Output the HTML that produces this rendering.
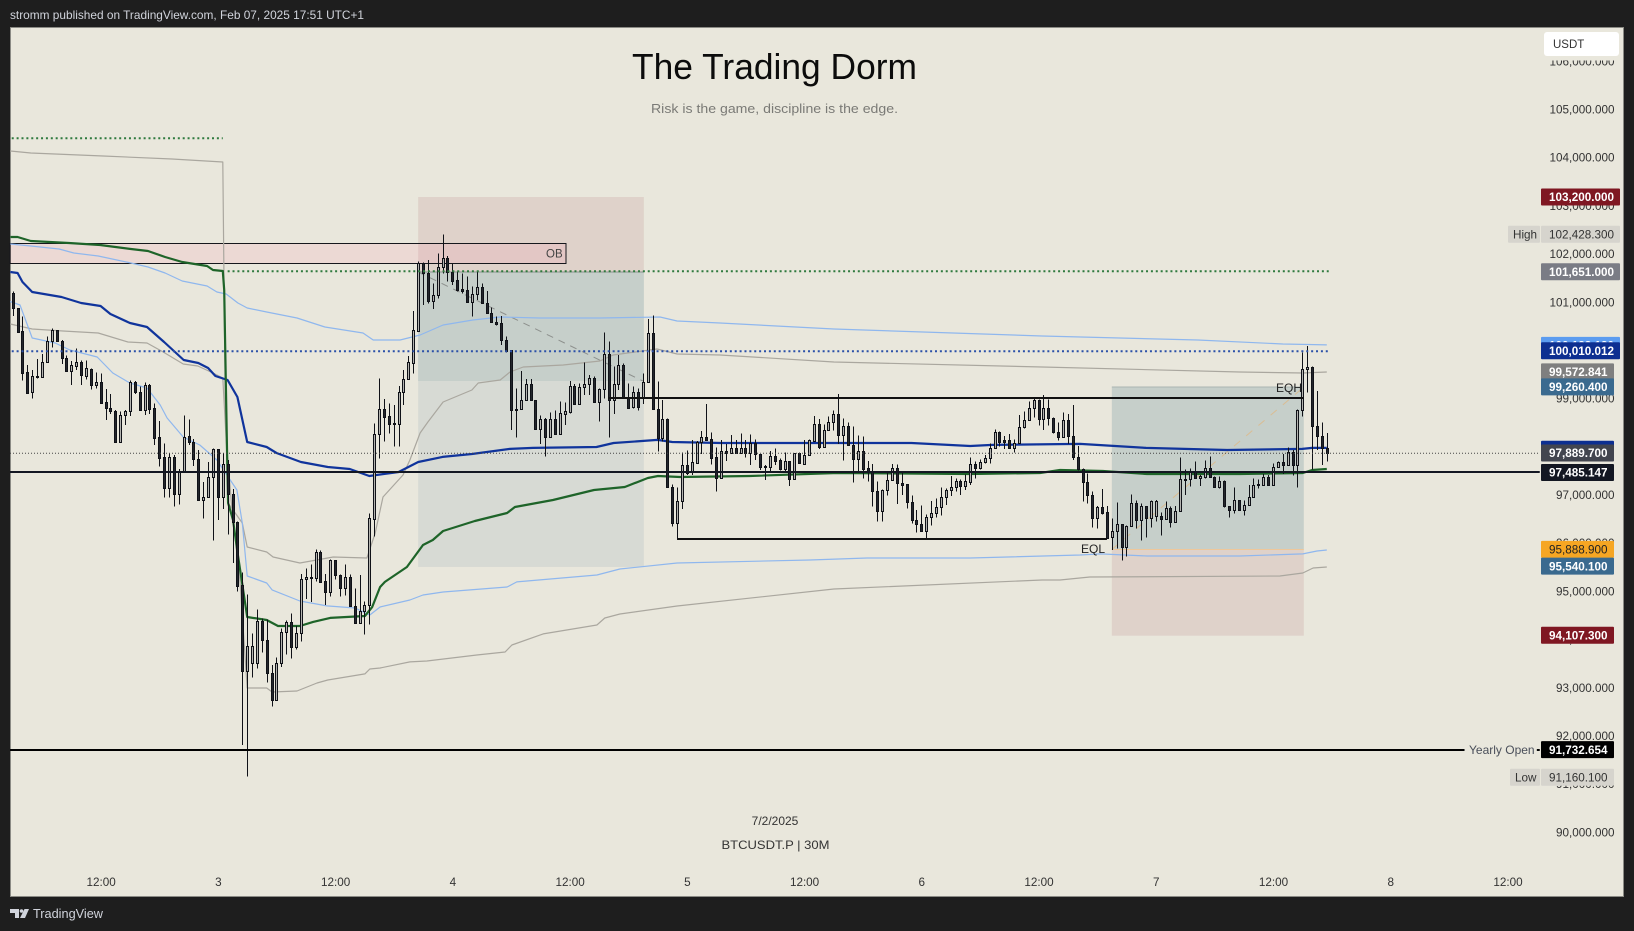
<!DOCTYPE html>
<html lang="en">
<head>
<meta charset="utf-8">
<title>BTCUSDT.P 30M chart</title>
<style>
html,body{margin:0;padding:0;background:#1e1e1e;width:1634px;height:931px;overflow:hidden}
svg{display:block;font-family:"Liberation Sans",sans-serif}
</style>
</head>
<body>
<svg id="chart" xmlns="http://www.w3.org/2000/svg" width="1634" height="931" viewBox="0 0 1634 931">
  <rect x="0" y="0" width="1634" height="931" fill="#1e1e1e"/>
  <text x="10" y="19" font-size="12" fill="#d1d4dc" textLength="354" lengthAdjust="spacingAndGlyphs">stromm published on TradingView.com, Feb 07, 2025 17:51 UTC+1</text>
  <rect x="10.5" y="27.5" width="1613" height="869" fill="#e9e7dc" stroke="#8b8b85" stroke-width="1"/>
  <g id="zones"></g>
  <g id="lines"></g>
  <g id="candles"></g>
  <g id="levels"></g>
  <g id="axis"></g>
  <g id="labels"></g>
  <text x="774.5" y="79" font-size="36" text-anchor="middle" fill="#0c0c0c" textLength="285" lengthAdjust="spacingAndGlyphs">The Trading Dorm</text>
  <text x="774.5" y="113" font-size="13" text-anchor="middle" fill="#7a7a76" textLength="247" lengthAdjust="spacingAndGlyphs">Risk is the game, discipline is the edge.</text>
  <text x="775" y="825" font-size="12" text-anchor="middle" fill="#333">7/2/2025</text>
  <text x="775.5" y="849" font-size="12" text-anchor="middle" fill="#333" textLength="108" lengthAdjust="spacingAndGlyphs">BTCUSDT.P | 30M</text>
  <rect x="1541" y="50" width="80" height="10.5" fill="#e9e7dc"/>
  <g>
    <rect x="1544" y="32" width="75" height="24" rx="3" fill="#ffffff"/>
    <text x="1553" y="48" font-size="11.5" fill="#333">USDT</text>
  </g>
  <g>
    <polygon points="10,909 19,909 19,918 15,918 15,913 10,913" fill="#d1d4dc"/>
    <circle cx="21.5" cy="911" r="1.8" fill="#d1d4dc"/>
    <polygon points="24.5,909 29,909 25,918 20,918" fill="#d1d4dc"/>
    <text x="33" y="918" font-size="13" fill="#d1d4dc" textLength="70" lengthAdjust="spacingAndGlyphs">TradingView</text>
  </g>
</svg>
<script>
const highs=[101215,100870,100697,99694,99590,99819,99922,100282,100455,100420,
100213,99888,99777,100040,99784,99791,99625,99542,99521,99196,
99093,98761,98726,98761,99369,99362,99245,99328,99300,98899,
98532,98069,97862,97827,97537,98650,98567,98159,97931,97267,
97682,97965,97952,97862,97723,97122,96444,95392,94936,94127,
94625,94438,94417,93470,93629,94231,94397,94542,94279,95358,
95475,95558,95870,95849,95358,95662,95648,95344,95558,95351,
95061,95337,94784,96616,98484,99418,98989,98899,98864,99258,
99590,99881,100815,101839,101825,101873,101389,102012,102406,101956,
101804,101631,101597,101527,101320,101631,101389,101230,100884,100698,
100711,100283,100006,99211,99571,99405,99405,98969,98644,98595,
98706,98748,98934,98920,99363,99301,99315,99743,99487,99453,
99211,100366,100179,99660,99902,99730,99315,99246,99211,99522,
100649,100725,99356,98969,98588,97219,97156,97882,97917,98138,
98118,98325,98885,98297,97986,98138,98055,98242,98138,98277,
98138,98256,98152,97848,97620,97910,97965,97758,97882,97703,
97869,97876,98138,98152,98636,98574,98463,98622,98747,99093,
98588,98505,98415,98235,98207,97703,97640,97274,97115,97461,
97640,97633,97461,97226,96990,96686,96783,96596,96873,96928,
97156,97135,97391,97343,97322,97426,97779,97689,97737,97827,
98069,98360,98311,98221,98263,98152,98657,98726,98934,99003,
98982,99072,98982,98602,98505,98712,98678,98864,98014,97551,
97447,97066,96769,97122,96769,96513,96845,96389,96361,97011,
96880,96825,96769,96880,96894,96638,96859,96755,96769,97779,
97530,97551,97696,97412,97710,97799,97378,97378,97295,96769,
97156,96894,96880,97205,97336,97322,97433,97412,97654,97689,
97842,97980,97932,98775,99951,100089,99660,99156,98505,98284];
const opens=[101195,100870,100400,99542,99127,99466,99452,99749,100192,100413,
100199,99832,99563,99680,99749,99473,99618,99286,99335,98920,
98795,98747,98104,98650,98733,99335,99127,98768,99272,98795,
98194,97779,97149,97779,97025,97467,98214,98104,97737,96887,
96963,97364,97945,96963,97633,97011,96430,95123,93353,93505,
93505,94376,93982,93297,92737,93519,94148,94355,93837,94127,
95247,95303,95268,95807,95206,94991,95641,95330,95061,95289,
94701,94335,94583,94708,96506,98256,98774,98629,98484,98463,
99127,99397,99743,100407,101818,101610,101023,101140,101721,101908,
101624,101451,101265,101244,100995,101175,101306,100988,100781,100580,
100559,100207,99999,98789,98789,98962,99294,98962,98374,98568,
98208,98568,98270,98685,98727,99259,98893,99239,99294,99425,
98934,99190,99916,98969,99294,99688,99010,98817,99128,99024,
99349,100352,98789,98187,98567,97170,96423,96866,97613,97468,
97668,98090,98194,98152,97779,97343,97903,97862,97965,97862,
97965,97876,98069,97841,97585,97585,97799,97723,97544,97696,
97336,97862,97647,97820,98125,98463,98000,98339,98505,98671,
98235,98422,98028,97737,97903,97551,97468,97073,96659,97094,
97302,97551,97239,97219,96845,96472,96389,96257,96534,96617,
96741,96949,97094,97156,97281,97177,97274,97634,97551,97675,
97758,97965,98297,98131,98131,97979,98069,98401,98546,98795,
98961,98567,98795,98588,98297,98194,98546,98214,97779,97530,
97260,96990,96513,96741,96638,96119,96244,96389,95912,96347,
96825,96472,96762,96513,96555,96555,96492,96721,96430,96659,
97329,97322,97502,97343,97378,97551,97364,97156,97281,96762,
96679,96887,96679,96783,96949,97198,97212,97364,97198,97571,
97676,97614,97883,97627,98761,99605,99647,98423,98215,97966];
const closes=[100870,100385,99535,99120,99466,99438,99749,100192,100420,100199,
99832,99563,99687,99749,99480,99625,99286,99335,98913,98795,
98747,98097,98650,98740,99341,99127,98768,99272,98774,98187,
97772,97149,97779,97025,97467,98207,98104,97737,96887,96963,
97364,97945,96963,97633,97011,96430,95109,93353,93857,93857,
94376,93982,93297,92737,93519,94148,94355,93837,94127,95247,
95303,95268,95807,95199,94991,95641,95330,95061,95289,94701,
94335,94583,94708,96513,98256,98774,98622,98477,98477,99127,
99397,99749,100421,101804,101597,101023,101140,101721,101908,101624,
101444,101251,101237,100995,101175,101306,100988,100781,100580,100552,
100207,99992,98768,98768,98962,99294,98962,98374,98568,98208,
98568,98270,98692,98734,99259,98893,99239,99301,99425,98934,
99197,99916,98969,99294,99688,99010,98796,99128,98817,99349,
100352,98789,98187,98568,97170,96423,96866,97613,97447,97675,
98097,98194,98145,97772,97343,97903,97862,97965,97862,97965,
97862,98069,97848,97585,97606,97799,97710,97544,97696,97336,
97862,97654,97820,98138,98463,98000,98339,98505,98671,98235,
98422,98028,97737,97903,97544,97481,97073,96659,97094,97302,
97551,97239,97212,96845,96472,96389,96257,96534,96617,96741,
96949,97094,97156,97281,97177,97281,97634,97551,97675,97758,
97965,98297,98104,98104,97979,98069,98401,98546,98795,98961,
98567,98795,98588,98297,98194,98546,98214,97779,97530,97260,
96990,96513,96741,96631,96112,96244,96389,95912,96361,96825,
96472,96762,96513,96866,96866,96492,96721,96430,96659,97322,
97322,97502,97343,97385,97551,97364,97156,97281,96762,96679,
96887,96679,96783,96949,97198,97219,97364,97198,97571,97675,
97614,97883,97627,98761,99605,99647,98423,98215,97966,97863];
const lows=[100710,100365,99369,99093,98996,99418,99431,99749,100061,100178,
99715,99556,99279,99590,99279,99397,99189,99210,98913,98553,
98678,98083,98097,98449,98636,99093,98761,98657,98678,98034,
97585,96942,96949,96755,96797,97467,98034,97599,96880,96506,
96935,96050,96479,96707,96181,95580,94991,91810,91154,93207,
93394,93726,93104,92606,92737,93422,93684,93601,93795,93954,
94839,94777,95199,95185,94715,94888,95247,94888,94908,94694,
94321,94321,94099,94307,96133,97758,98104,98277,97999,97999,
98864,99521,99522,100386,100940,100974,100857,101078,101597,101424,
101355,101216,101182,100988,100698,101043,100974,100767,100573,100511,
100110,99958,98347,98187,98775,98948,98948,98360,98056,97793,
98208,98257,98264,98450,98692,98865,98886,99073,99073,98920,
98519,99003,98194,98678,99176,99003,98782,98796,98748,98886,
99335,98761,97897,98104,97149,96340,96078,96707,97412,97412,
97640,97848,98138,97627,97066,97329,97703,97848,97848,97848,
97779,97620,97723,97516,97309,97481,97620,97502,97481,97184,
97309,97640,97640,97806,98111,97952,97986,98332,98332,98055,
97710,98014,97253,97481,97336,97274,96755,96444,96444,96984,
97288,96811,96997,96721,96410,96216,96237,96085,96361,96527,
96569,96790,96972,97066,96997,97101,97205,97343,97530,97654,
97654,97952,98000,97952,97965,97876,98055,98380,98539,98609,
98436,98346,98436,98277,98125,98194,98055,97723,97502,96859,
96825,96320,96306,96596,96091,95856,95891,95635,95718,96333,
96306,96050,96112,96320,96444,96154,96479,96327,96423,96645,
96997,97170,97329,97184,97336,97357,97149,97136,96741,96534,
96617,96672,96569,96769,96942,97136,97198,97184,97184,97557,
97434,97607,97399,97150,98623,99121,97530,97932,97620,97690];

const vwapBars=[-0.5,1,2,4,10,14,18,20,24,27.5,31,35,38,40,41.5,44,46,48,52,54,59,64.5,69,73,79,83,88,94,101.8,106.5,119.5,123,132,135,145,164.6,184,196,200.6,218.5,232,248.6,264,266,269];
const vwapValues=[101624,101604,101417,101209,101105,100981,100919,100752,100566,100483,100172,99798,99736,99632,99466,99383,99030,98097,97993,97868,97682,97578,97536,97391,97474,97682,97786,97848,97952,97973,97993,98076,98139,98097,98076,98076,98076,98014,98035,98056,97973,97931,97952,97973,97973];
const greenBars=[-0.5,1,3.7,11.5,17.9,24.2,27.7,31.2,34.7,39.8,41,43,43.3,43.9,44.1,45.1,46.1,48,52,54.3,58.8,61.5,65,72.1,73.6,75.2,76.2,80.7,84,86,88.1,94.6,101.2,102.8,110.6,119,125.3,130,132.1,136.6,150.9,168.7,196,210.3,214.4,223.2,232.2,251.2,264.1,266,269];
const greenValues=[102350,102350,102267,102226,102185,102101,102060,101935,101832,101748,101666,101645,101251,97723,96831,96478,95752,94465,94403,94278,94278,94362,94445,94486,94673,95088,95192,95503,95959,96063,96250,96457,96623,96748,96893,97100,97163,97349,97391,97370,97391,97453,97433,97453,97515,97495,97433,97433,97453,97515,97536];
const blueUpperBars=[-0.5,3.7,9.5,12.5,17.5,24.2,27.7,31.2,34.7,39.8,41.8,43.7,46.1,48,52,58.2,63.9,71.7,73.8,79.3,83.4,88.1,94.2,99.8,107.9,120.2,132.5,136,144.8,168.1,210.7,242.6,260,269];
const blueUpperValues=[102205,102164,102101,102018,101956,101811,101728,101603,101437,101334,101209,101167,100981,100877,100794,100669,100483,100358,100213,100213,100317,100524,100628,100690,100670,100670,100690,100607,100566,100441,100296,100213,100130,100110];
const blueLowerBars=[-0.5,1.5,4,8.7,11.7,17.3,20.5,24,27.5,30.2,31.6,34.9,38.3,41.8,45.9,47,48,52,53.1,58.8,64.3,70.1,73.1,75.2,81.3,84,88.1,101.2,103.2,119.6,124.3,136,163.2,174.9,196,218.5,222.6,232.2,251.2,264.1,267,269];
const blueLowerValues=[101010,100939,100255,100151,100005,99860,99528,99321,99217,98864,98594,98200,98034,97723,97100,96416,95316,95171,95026,94797,94694,94652,94507,94673,94818,94922,94984,95088,95192,95337,95461,95586,95648,95689,95689,95752,95773,95731,95731,95773,95835,95855];
const grayUpperBars=[-0.5,3.7,18.5,32.6,43,43.3,43.5,44.1,47,48,52,53.3,58.8,65.6,72.5,74.2,75.8,79.9,81.3,83.4,85,88.1,94,95.3,99.8,101.8,104.5,112.7,120.2,122.9,131.9,136,144.8,168.1,210.7,251.2,264.1,269];
const grayUpperValues=[104135,104093,104031,103969,103907,101043,98968,96831,96416,95918,95814,95710,95586,95710,95689,96208,96955,97412,97723,98283,98512,98927,99175,99321,99383,99549,99653,99694,99777,99902,100026,99923,99902,99757,99653,99549,99528,99549];
const grayLowerBars=[-0.5,4,10.3,17.5,23.6,27.5,30.8,34.9,37.9,41,43,43.7,44.9,46.5,48,52,53.1,58.2,62.3,64.5,72.1,73.1,75.2,81.3,84.8,95,100.8,102.2,108.6,119.6,121.2,124.3,136,168.1,210.7,214.4,220.5,259.4,264.1,266.2,269];
const grayLowerValues=[100545,100441,100400,100358,100171,100151,99964,99715,99674,99528,99425,98138,96686,95233,92992,92992,92909,92930,93096,93158,93283,93386,93407,93532,93552,93677,93739,93884,94113,94299,94444,94527,94693,95046,95233,95233,95295,95316,95378,95482,95503];

const priceTicks=[106000,105000,104000,103000,102000,101000,100000,99000,98000,97000,96000,95000,94000,93000,92000,91000,90000];
const timeTickBars=[18,42,66,90,114,138,162,186,210,234,258,282,306];
const timeTickLabels=["12:00","3","12:00","4","12:00","5","12:00","6","12:00","7","12:00","8","12:00"];

const NS="http://www.w3.org/2000/svg";
function x(bar){return 12.7+4.885*bar;}
function y(price){return 109.3+(105000-price)*0.04819;}
function el(parent,tag,attrs){
  const e=document.createElementNS(NS,tag);
  for(const k in attrs){e.setAttribute(k,attrs[k]);}
  parent.appendChild(e);
  return e;
}

/* zones */
const zonesG=document.getElementById('zones');
const levelsG=document.getElementById('levels');
const linesG=document.getElementById('lines');
const candlesG=document.getElementById('candles');
const axisG=document.getElementById('axis');
const labelsG=document.getElementById('labels');

function zone(parent,b0,b1,p0,p1,fill,name){
  const r=el(parent,'rect',{x:x(b0),y:y(p0),width:x(b1)-x(b0),height:y(p1)-y(p0),fill:fill});
  
  
  return r;
}
zone(zonesG,83,129.2,103180,101624,'#dfd2ca','short-target-zone');
zone(zonesG,83,129.2,101624,95503,'#d7dad4','short-stop-zone-light');
zone(zonesG,83,129.2,101624,99362,'#c6cfca','short-stop-zone-dark');
zone(zonesG,225,264.3,99238,95866,'#c6cfca','long-target-zone');
zone(zonesG,225,264.3,95866,94077,'#dfd2ca','long-stop-zone');
const ob=zone(zonesG,-0.55,113.3,102220,101805,'rgba(255,140,165,0.15)','order-block-box');
ob.setAttribute('stroke','#15171c');
ob.setAttribute('stroke-width','1');
ob.setAttribute('shape-rendering','crispEdges');

function hline(parent,b0,b1,price,stroke,width,dash,name){
  const l=el(parent,'line',{x1:x(b0),x2:x(b1),y1:y(price),y2:y(price),stroke:stroke,'stroke-width':width});
  if(dash){l.setAttribute('stroke-dasharray',dash);}
  
  
  return l;
}
hline(zonesG,83,129.2,101624,'#8b908d',1,null,'short-entry-edge');
hline(zonesG,225,264.3,99238,'#aab5b2',1,null,'long-target-edge');
hline(zonesG,225,264.3,95866,'#eec79a',1,null,'long-entry-line');

function seg(parent,b0,p0,b1,p1,stroke,dash,name){
  const l=el(parent,'line',{x1:x(b0),y1:y(p0),x2:x(b1),y2:y(p1),stroke:stroke,'stroke-width':1});
  l.setAttribute('stroke-dasharray',dash);
  
  
}
seg(zonesG,83,101624,129,99362,'#8d908d','7 6','short-trade-path');
seg(zonesG,225,95866,263.6,99175,'rgba(232,176,110,0.6)','8 8','long-trade-path');

/* indicator lines */
function series(bars,values,stroke,width,name){
  const pts=bars.map((b,i)=>x(b).toFixed(1)+','+y(values[i]).toFixed(1)).join(' ');
  const p=el(linesG,'polyline',{points:pts,fill:'none',stroke:stroke,'stroke-width':width,'stroke-linejoin':'round'});
  
  
}
series(grayUpperBars,grayUpperValues,'#aaa79f',1.2,'gray-upper-band');
series(grayLowerBars,grayLowerValues,'#aaa79f',1.2,'gray-lower-band');
series(blueUpperBars,blueUpperValues,'#8fb7ee',1.2,'blue-upper-band');
series(blueLowerBars,blueLowerValues,'#8fb7ee',1.2,'blue-lower-band');
series(vwapBars,vwapValues,'#10349c',2.2,'vwap-line');
series(greenBars,greenValues,'#1e6429',2.2,'anchored-vwap-line');

/* candles */
for(let i=0;i<opens.length;i++){
  const cx=Math.round(x(i));
  const up=closes[i]>=opens[i];
  const top=Math.round(y(Math.max(opens[i],closes[i])));
  const bot=Math.round(y(Math.min(opens[i],closes[i])));
  const g=el(candlesG,'g',{'shape-rendering':'crispEdges'});
  
  
  const w=el(g,'rect',{x:cx,y:y(highs[i]),width:1,height:Math.max(1,y(lows[i])-y(highs[i])),fill:'#101218'});
  
  
  const b=el(g,'rect',{x:cx-0.5,y:top+0.5,width:2,height:Math.max(1,bot-top),fill:up?'#b4b4b0':'#23262c',stroke:'#101218','stroke-width':1});
  
  
}

/* level lines */
hline(levelsG,-0.2,43,104398,'#2f7a3e',2,'2 2.885','green-dotted-high-level');
hline(levelsG,44,269.4,101639,'#2f7a3e',2,'2 2.885','green-dotted-pdh-level');
hline(levelsG,-0.2,269.4,99979,'#2b50a8',2,'2 2.885','blue-dotted-level');
hline(levelsG,-0.55,312.6,97862,'#444',1,'1 2','last-price-line');
hline(levelsG,-0.55,312.6,97474,'#131722',2,null,'daily-open-line');
hline(levelsG,-0.55,297.2,91705,'#000',2,null,'yearly-open-line');
hline(levelsG,312,312.6,91705,'#000',2,null,'yearly-open-tick');
hline(levelsG,121.9,264.2,99010,'#111',2,null,'equal-highs-line');
hline(levelsG,136,224,96084,'#111',2,null,'equal-lows-line');

function note(parent,px,py,size,fill,str,name){
  const t=el(parent,'text',{x:px,y:py,'font-size':size,fill:fill});
  t.textContent=str;
  
  
  return t;
}
note(levelsG,546,257.5,11.5,'#444','OB','order-block-label');
note(levelsG,1081,553,12,'#222','EQL','equal-lows-label');
note(levelsG,1276,392,12,'#222','EQH','equal-highs-label');
note(levelsG,1469,754,12,'#4a4f5a','Yearly Open','yearly-open-label');

/* axes */
priceTicks.forEach(p=>{
  const t=note(axisG,1614.5,y(p)+4.2,11.7,'#333',p.toLocaleString('en-US',{minimumFractionDigits:3}),'price-tick');
  t.setAttribute('text-anchor','end');
});
timeTickBars.forEach((b,i)=>{
  const t=note(axisG,x(b)+0.5,886,11.7,'#333',timeTickLabels[i],'time-tick');
  t.setAttribute('text-anchor','middle');
});

/* price labels */
function priceLabel(value,text,bg,fg,wide,bold){
  const cy=y(value)+1;
  const r=el(labelsG,'rect',{x:1541,y:cy-8.5,width:wide?79:73,height:17,rx:1,fill:bg});
  
  
  const t=note(labelsG,1549,cy+4.2,11.7,fg,text,'price-label');
  if(bold){t.setAttribute('font-weight','bold');}
}
function sideTag(value,text,left,width){
  const cy=y(value)+1;
  const r=el(labelsG,'rect',{x:left,y:cy-8.5,width:width,height:17,rx:1,fill:'#d6d4cd'});
  
  
  note(labelsG,left+5,cy+4.2,11.7,'#333',text,'extreme-tag');
}
priceLabel(103200,'103,200.000','#7f1722','#fff',true,true);
sideTag(102428.3,'High',1508,32);
priceLabel(102428.3,'102,428.300','#d6d4cd','#333',true,false);
priceLabel(101651,'101,651.000','#7a7c85','#fff',true,true);
priceLabel(100123.12,'100,123.120','#5b9cf0','#fff',true,true);
priceLabel(100010.012,'100,010.012','#0d2f91','#fff',true,true);
priceLabel(99572.841,'99,572.841','#7f7f7f','#fff',false,true);
priceLabel(99260.4,'99,260.400','#3a6a8f','#fff',false,true);
priceLabel(97965.57,'97,965.570','#0d2f91','#fff',false,true);
priceLabel(97889.7,'97,889.700','#42454f','#fff',false,true);
priceLabel(97485.147,'97,485.147','#131722','#fff',false,true);
priceLabel(95888.9,'95,888.900','#f6a623','#222',false,false);
priceLabel(95540.1,'95,540.100','#3a6a8f','#fff',false,true);
priceLabel(94107.3,'94,107.300','#7f1722','#fff',false,true);
priceLabel(91732.654,'91,732.654','#000','#fff',false,true);
sideTag(91160.1,'Low',1510,30);
priceLabel(91160.1,'91,160.100','#d6d4cd','#333',false,false);
</script>
</body>
</html>
